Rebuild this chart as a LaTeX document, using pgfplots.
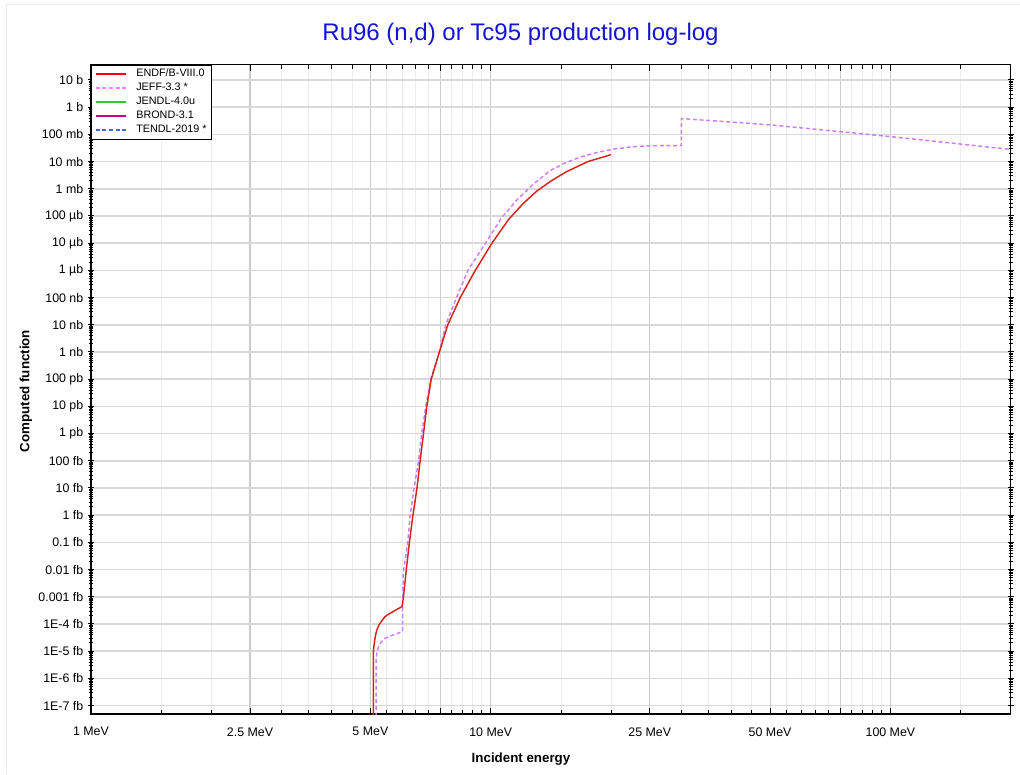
\documentclass[border=0pt]{standalone}
\usepackage{pgfplots}
\pgfplotsset{compat=1.18}
\usepackage{fontspec}
\setmainfont{Liberation Sans}
\definecolor{endfred}{RGB}{215,35,25}
\definecolor{jeffviolet}{RGB}{205,125,245}
\definecolor{legred}{RGB}{255,0,0}
\definecolor{legpink}{RGB}{255,128,255}
\definecolor{leggreen}{RGB}{50,200,50}
\definecolor{legmag}{RGB}{200,0,140}
\definecolor{legblue}{RGB}{65,105,225}
\definecolor{titleblue}{RGB}{20,20,215}
\begin{document}
\begin{tikzpicture}
\useasboundingbox (0,0) rectangle (765pt,580.5pt);
\draw[black!8, line width=0.75pt] (4.5pt,0) -- (4.5pt,576.75pt) -- (765pt,576.75pt);
\node[text=titleblue, font=\fontsize{18}{21}\selectfont] at (390.4pt,555pt) {Ru96 (n,d) or Tc95 production log-log};
\node[font=\fontsize{10}{12}\selectfont\bfseries] at (390.75pt,11pt) {Incident energy};
\node[font=\fontsize{10}{12}\selectfont\bfseries, rotate=90] at (19.5pt,287.25pt) {Computed function};
\begin{axis}[
  at={(68.25pt,45pt)}, anchor=south west,
  scale only axis, width=689.8pt, height=487.1pt,
  xmode=log, ymode=log,
  xmin=1, xmax=200, ymin=4.9e-23, ymax=37,
  axis line style={line width=1pt, black},
  xtick={1,2.5,5,7.5,10,25,50,75,100},
  xticklabels={1 MeV,2.5 MeV,5 MeV,,10 MeV,25 MeV,50 MeV,,100 MeV},
  minor xtick={1.5,2,3,3.5,4,4.5,5.5,6,6.5,7,8,8.5,9,9.5,15,20,30,35,40,45,55,60,65,70,80,85,90,95,150},
  ytick={1e-22,1e-21,1e-20,1e-19,1e-18,1e-17,1e-16,1e-15,1e-14,1e-13,1e-12,1e-11,1e-10,1e-9,1e-8,1e-7,1e-6,1e-5,1e-4,1e-3,1e-2,1e-1,1,10},
  yticklabels={1E-7 fb,1E-6 fb,1E-5 fb,1E-4 fb,0.001 fb,0.01 fb,0.1 fb,1 fb,10 fb,100 fb,1 pb,10 pb,100 pb,1 nb,10 nb,100 nb,1 µb,10 µb,100 µb,1 mb,10 mb,100 mb,1 b,10 b},
  minor ytick={},
  xmajorgrids, xminorgrids, ymajorgrids,
  major x grid style={color=black!20, line width=0.9pt},
  minor x grid style={color=black!7, line width=0.75pt},
  major y grid style={color=black!15, line width=1.3pt},
  xtick align=inside, ytick align=center,
  major tick length=4.5pt, minor tick length=3pt,
  every tick/.style={black, line width=0.75pt},
  ticklabel style={font=\fontsize{9.3}{11}\selectfont},
  xticklabel style={yshift=-6.5pt},
  legend style={at={(0,1)}, anchor=north west, draw=black, line width=0.75pt, fill=white,
    font=\fontsize{8.1}{9}\selectfont, inner xsep=2.5pt, inner ysep=1.5pt, column sep=6.5pt,
    nodes={inner sep=1pt, text height=6.3pt, text depth=2.2pt}},
  legend cell align=left,
  legend image code/.code={\draw[#1] (0pt,0pt) -- (22.5pt,0pt);},
]
\addlegendimage{legred, line width=1.1pt}
\addlegendentry{ENDF/B-VIII.0}
\addlegendimage{legpink, line width=1.1pt, dash pattern=on 3pt off 2pt}
\addlegendentry{JEFF-3.3 *}
\addlegendimage{leggreen, line width=1.1pt}
\addlegendentry{JENDL-4.0u}
\addlegendimage{legmag, line width=1.1pt}
\addlegendentry{BROND-3.1}
\addlegendimage{legblue, line width=1.1pt, dash pattern=on 3pt off 2pt}
\addlegendentry{TENDL-2019 *}
% JEFF-3.3 / TENDL-2019
\addplot[forget plot, jeffviolet, line width=1.1pt, dash pattern=on 3pt off 2pt] coordinates {
(5.168,1e-30) (5.170,5.0e-21) (5.19,8.9e-21) (5.24,1.48e-20) (5.32,2.14e-20) (5.44,2.95e-20) (5.57,3.47e-20)
(5.71,3.98e-20) (5.86,4.57e-20) (6.00,5.25e-20) (6.02,5.25e-20)
(6.02,4.37e-19) (6.04,7.2e-18) (6.20,1e-16) (6.29,1e-15) (6.43,1e-14) (6.60,1e-13) (6.72,1e-12)
(6.88,1e-11) (7.08,1e-10) (7.44,1e-9) (7.72,1e-8) (8.21,1e-7) (8.77,1e-6) (9.70,1e-5) (10.67,8.9e-5)
(11.63,3.89e-4) (12.80,1.51e-3) (14.09,4.68e-3) (15.4,9.1e-3) (16.75,1.45e-2) (18.5,2.19e-2) (20.3,2.88e-2)
(22.5,3.47e-2) (24.6,3.8e-2)
(30.0,3.9e-2) (30.0,3.8e-1) (36.1,3.16e-1) (50,2.24e-1) (75,1.26e-1) (100,8.3e-2) (200,2.8e-2)
};
% ENDF/B-VIII.0
\addplot[forget plot, endfred, line width=1.1pt] coordinates {
(5.088,1e-30) (5.090,1e-20) (5.10,1.41e-20) (5.12,2.24e-20) (5.15,3.8e-20) (5.19,6.03e-20) (5.24,8.5e-20)
(5.29,1.07e-19) (5.36,1.41e-19) (5.44,1.86e-19) (5.52,2.19e-19) (5.60,2.45e-19) (5.72,2.95e-19)
(5.83,3.47e-19) (5.92,3.89e-19) (6.00,4.37e-19) (6.05,1e-18) (6.15,1e-17) (6.26,1e-16) (6.39,1e-15) (6.54,1e-14)
(6.66,1e-13) (6.79,1e-12) (6.92,1e-11) (7.10,1e-10) (7.44,1e-9) (7.81,1e-8) (8.39,1e-7) (9.15,1e-6)
(10.07,1e-5) (11.08,7.4e-5) (12.08,2.95e-4) (13.05,8.3e-4) (14.2,2.0e-3) (15.5,4.3e-3) (17.5,1e-2) (20.0,1.8e-2)
};
\end{axis}
\end{tikzpicture}
\end{document}
